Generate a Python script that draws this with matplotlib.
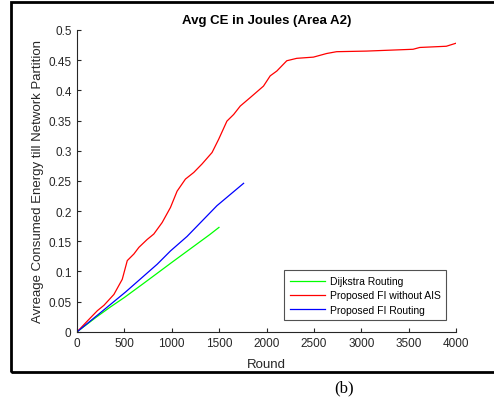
import numpy as np
import matplotlib.pyplot as plt
from matplotlib.patches import Rectangle

plt.rcParams['font.family'] = ['Liberation Sans', 'DejaVu Sans']

# consumed energy per round, read from simulation output
rounds_dij = [0, 100, 200, 350, 500, 700, 846, 1000, 1200, 1400, 1498]
energy_dij = [0, 0.012, 0.024, 0.041, 0.057, 0.080, 0.097, 0.115, 0.138, 0.161, 0.173]

rounds_fi_noais = [0, 109, 214, 284, 389, 477, 530, 600, 653, 740, 810, 898, 986, 1056,
                   1144, 1232, 1319, 1425, 1495, 1582, 1653, 1723, 1828, 1968, 2039,
                   2109, 2214, 2319, 2495, 2635, 2740, 3056, 3547, 3618, 3898, 4000]
energy_fi_noais = [0, 0.018, 0.035, 0.044, 0.062, 0.087, 0.118, 0.129, 0.140, 0.153,
                   0.162, 0.181, 0.206, 0.233, 0.253, 0.264, 0.278, 0.297, 0.319, 0.349,
                   0.360, 0.374, 0.388, 0.407, 0.424, 0.432, 0.449, 0.453, 0.455, 0.461,
                   0.464, 0.465, 0.468, 0.471, 0.473, 0.478]

rounds_fi = [0, 249, 512, 846, 986, 1161, 1477, 1758]
energy_fi = [0, 0.032, 0.066, 0.112, 0.134, 0.158, 0.209, 0.246]

fig = plt.figure(figsize=(4.94, 4.02), dpi=100)
ax = fig.add_axes([0.156, 0.172, 0.767, 0.751])

ax.plot(rounds_dij, energy_dij, color=(0, 1, 0), lw=0.9, label='Dijkstra Routing')
ax.plot(rounds_fi_noais, energy_fi_noais, color=(1, 0, 0), lw=0.9, label='Proposed FI without AIS')
ax.plot(rounds_fi, energy_fi, color=(0, 0, 1), lw=0.9, label='Proposed FI Routing')

ax.set_xlim(0, 4000)
ax.set_ylim(0, 0.5)
ax.set_xticks(np.arange(0, 4001, 500))
ax.set_yticks(np.arange(0, 0.51, 0.05))
ax.set_yticklabels(['0', '0.05', '0.1', '0.15', '0.2', '0.25', '0.3', '0.35', '0.4', '0.45', '0.5'])
for s in ['top', 'right']:
    ax.spines[s].set_visible(False)
for s in ['left', 'bottom']:
    ax.spines[s].set_color('#262626')
    ax.spines[s].set_linewidth(0.8)
ax.tick_params(direction='in', length=3, width=0.8, colors='#262626', labelsize=8.5, pad=4)

ax.set_title('Avg CE in Joules (Area A2)', fontsize=9.5, fontweight='bold', pad=5)
ax.set_xlabel('Round', fontsize=9.5, color='#262626', labelpad=6)
ax.set_ylabel('Avreage Consumed Energy till Network Partition', fontsize=9.5, color='#262626', labelpad=3)

leg = ax.legend(loc='lower right', bbox_to_anchor=(0.983, 0.028), fontsize=7.5, frameon=True,
                fancybox=False, edgecolor='#262626', handlelength=3.3, borderpad=0.55,
                labelspacing=0.4, handletextpad=0.5, borderaxespad=0.3)
leg.get_frame().set_linewidth(0.8)

# outer frame around the figure
fig.patches.append(Rectangle((0.023, 0.072), 1.2, 0.92, transform=fig.transFigure,
                             fill=False, edgecolor='black', lw=2))
fig.text(0.697, 0.035, '(b)', fontsize=12, family='Liberation Serif', ha='center', va='center')

fig.savefig('out.png', dpi=100)
